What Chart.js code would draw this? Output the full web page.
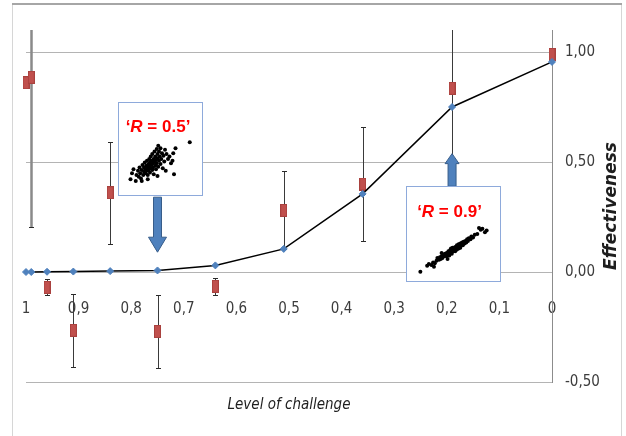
<!DOCTYPE html>
<html>
<head>
<meta charset="utf-8">
<script src="https://cdn.jsdelivr.net/npm/chart.js@4.4.1/dist/chart.umd.min.js"></script>
<style>
html, body { margin: 0; padding: 0; background: #fff; }
#wrap { position: relative; width: 626px; height: 436px; overflow: hidden; }
#main { position: absolute; left: 0; top: 0; }
.inset { position: absolute; box-sizing: border-box; border: 1px solid #8eaadb; background: #fff; }
.inset canvas { position: absolute; left: 0; top: 0; }
.inset .r { position: absolute; left: 0; width: 100%; box-sizing: border-box; text-align: center; white-space: nowrap;
  font: bold 17px "Liberation Sans", Arial, sans-serif; line-height: 17px; color: #ff0000; }
</style>
</head>
<body>
<div id="wrap">
  <canvas id="main" width="626" height="436"></canvas>
  <div class="inset" style="left:118px; top:102px; width:85px; height:94px;">
    <canvas id="inset1" width="83" height="92"></canvas>
    <div class="r" style="top:15px; padding-right:5px;">‘<i>R</i> = 0.5’</div>
  </div>
  <div class="inset" style="left:406px; top:186px; width:95px; height:96px;">
    <canvas id="inset2" width="93" height="94"></canvas>
    <div class="r" style="top:16px; padding-right:8px;">‘<i>R</i> = 0.9’</div>
  </div>
</div>
<script>
// level of challenge (x) -- same positions for the model curve and the observed points
var levels = [1, 0.99, 0.96, 0.91, 0.84, 0.75, 0.64, 0.51, 0.36, 0.19, 0];
var modelValues = [0, 0, 0.001, 0.002, 0.004, 0.007, 0.03, 0.105, 0.355, 0.75, 0.955];
var observedValues = [0.86, 0.885, -0.07, -0.265, 0.36, -0.27, -0.065, 0.28, 0.40, 0.835, 0.99];
var observedErrors = [null, 0.68, 0.036, 0.165, 0.232, 0.165, 0.04, 0.177, 0.26, 0.34, null];

var xTickLabels = ['1', '0,9', '0,8', '0,7', '0,6', '0,5', '0,4', '0,3', '0,2', '0,1', '0'];
var yTickValues = [-0.5, 0, 0.5, 1];
var yTickLabels = ['-0,50', '0,00', '0,50', '1,00'];

// small scatter clouds inside the two boxes (0-100 units)
var inset1Points = [[12,21],[10,14],[14,26],[17,12],[18,19],[20,24],[21,17],[22,28],[23,21],[24,15],[25,25],[26,31],[27,19],[28,23],[28,28],[29,34],[30,21],[30,26],[31,30],[32,24],[32,36],[33,28],[33,19],[34,32],[34,25],[35,38],[35,29],[36,22],[36,34],[37,27],[37,41],[38,31],[38,36],[39,25],[39,44],[40,33],[40,28],[41,38],[41,20],[42,35],[42,47],[43,30],[43,41],[44,37],[44,26],[45,50],[45,33],[46,44],[46,39],[47,29],[47,54],[48,36],[48,47],[49,41],[50,32],[50,51],[51,38],[52,45],[53,27],[54,42],[55,35],[56,49],[57,24],[58,44],[60,38],[62,41],[64,33],[66,36],[68,20],[67,45],[70,51],[25,12],[33,14],[46,18],[89,58]];
var inset2Points = [[11,6],[19,13],[21,15],[24,14],[26,17],[28,16],[30,19],[31,22],[33,20],[34,23],[35,21],[36,24],[37,22],[38,26],[39,24],[40,27],[41,25],[42,28],[42,24],[43,27],[44,30],[45,28],[45,25],[46,31],[47,29],[47,33],[48,27],[48,31],[49,34],[50,30],[50,33],[51,32],[52,35],[52,30],[53,34],[54,37],[54,32],[55,35],[56,33],[56,38],[57,36],[58,39],[58,34],[59,37],[60,40],[61,37],[62,41],[63,39],[64,42],[65,40],[66,44],[67,42],[68,45],[70,44],[71,47],[73,46],[75,49],[78,50],[80,57],[82,55],[84,56],[87,52],[89,54],[27,12],[36,28],[43,21]];

// arrows, in data units
var arrows = [
    {x: 0.75, from: 0.34, to: 0.09, shaft: 8, head: 18, headLen: 15},
    {x: 0.19, from: 0.39, to: 0.538, shaft: 8, head: 14, headLen: 10}
];

var narrow = '"Liberation Sans Narrow", "Arial Narrow", "DejaVu Sans Condensed", sans-serif';
Chart.defaults.font.family = narrow;

// red marker, a bit taller than wide
var redMark = document.createElement('canvas');
redMark.width = 7;
redMark.height = 13;
(function() {
    var c = redMark.getContext('2d');
    c.fillStyle = '#c0504d';
    c.fillRect(0, 0, 7, 13);
    c.strokeStyle = '#a9413e';
    c.strokeRect(0.5, 0.5, 6, 12);
})();

var errorBars = {
    id: 'errorBars',
    beforeDatasetsDraw: function(chart) {
        var ctx = chart.ctx, a = chart.chartArea, x = chart.scales.x, y = chart.scales.y;
        ctx.save();
        ctx.beginPath();
        ctx.rect(a.left, a.top, a.right - a.left, a.bottom - a.top);
        ctx.clip();
        levels.forEach(function(lv, i) {
            var e = observedErrors[i];
            if (e == null) return;
            // the first bar sits on two overlapping points, it reads heavier
            ctx.strokeStyle = i === 1 ? '#8a8a8a' : '#3a3a3a';
            ctx.lineWidth = i === 1 ? 2.5 : 1;
            var px = Math.round(x.getPixelForValue(lv)) + 0.5;
            var top = Math.round(y.getPixelForValue(observedValues[i] + e)) + 0.5;
            var bot = Math.round(y.getPixelForValue(observedValues[i] - e)) + 0.5;
            ctx.beginPath();
            ctx.moveTo(px, top); ctx.lineTo(px, bot);
            ctx.stroke();
            ctx.strokeStyle = '#2a2a2a';
            ctx.lineWidth = 1;
            ctx.beginPath();
            ctx.moveTo(px - 2.5, top); ctx.lineTo(px + 2.5, top);
            ctx.moveTo(px - 2.5, bot); ctx.lineTo(px + 2.5, bot);
            ctx.stroke();
        });
        ctx.restore();
    }
};

var decorations = {
    id: 'decorations',
    beforeDraw: function(chart) {
        var ctx = chart.ctx;
        ctx.save();
        ctx.strokeStyle = '#d6d6d6';
        ctx.lineWidth = 1;
        ctx.beginPath();
        ctx.moveTo(12.5, 4); ctx.lineTo(12.5, 436);
        ctx.moveTo(621.5, 4); ctx.lineTo(621.5, 436);
        ctx.stroke();
        ctx.strokeStyle = '#a6a6a6';
        ctx.lineWidth = 2;
        ctx.beginPath();
        ctx.moveTo(12, 4); ctx.lineTo(622, 4);
        ctx.stroke();
        ctx.restore();
    },
    afterDatasetsDraw: function(chart) {
        var ctx = chart.ctx, x = chart.scales.x, y = chart.scales.y;
        ctx.save();
        ctx.fillStyle = '#4f81bd';
        ctx.strokeStyle = '#385d8a';
        ctx.lineWidth = 1;
        arrows.forEach(function(ar) {
            var cx = x.getPixelForValue(ar.x);
            var y0 = y.getPixelForValue(ar.from);
            var y1 = y.getPixelForValue(ar.to);
            var dir = y1 > y0 ? 1 : -1;
            var yh = y1 - dir * ar.headLen;
            ctx.beginPath();
            ctx.moveTo(cx - ar.shaft / 2, y0);
            ctx.lineTo(cx - ar.shaft / 2, yh);
            ctx.lineTo(cx - ar.head / 2, yh);
            ctx.lineTo(cx, y1);
            ctx.lineTo(cx + ar.head / 2, yh);
            ctx.lineTo(cx + ar.shaft / 2, yh);
            ctx.lineTo(cx + ar.shaft / 2, y0);
            ctx.closePath();
            ctx.fill();
            ctx.stroke();
        });
        ctx.restore();
    },
    afterDraw: function(chart) {
        var ctx = chart.ctx, a = chart.chartArea;
        ctx.save();
        ctx.fillStyle = '#1e1e1e';
        ctx.textAlign = 'center';
        ctx.textBaseline = 'middle';
        ctx.font = 'italic 15px ' + narrow;
        ctx.fillText('Level of challenge', (a.left + a.right) / 2, 405);
        ctx.translate(612, (a.top + a.bottom) / 2);
        ctx.rotate(-Math.PI / 2);
        ctx.font = 'italic bold 17px "DejaVu Sans", sans-serif';
        ctx.fillText('Effectiveness', 0, 0);
        ctx.restore();
    }
};

new Chart(document.getElementById('main'), {
    type: 'scatter',
    data: {
        datasets: [{
            label: 'Model',
            data: levels.map(function(l, i) { return {x: l, y: modelValues[i]}; }),
            showLine: true,
            borderColor: '#000000',
            borderWidth: 1.5,
            pointStyle: 'rectRot',
            pointRadius: 3.5,
            pointBackgroundColor: '#4f81bd',
            pointBorderColor: '#4f81bd',
            pointBorderWidth: 1,
            clip: false
        }, {
            label: 'Observed',
            data: levels.map(function(l, i) { return {x: l, y: observedValues[i]}; }),
            showLine: false,
            pointStyle: redMark,
            pointRadius: 5,
            clip: false
        }]
    },
    options: {
        responsive: false,
        animation: false,
        layout: {padding: {left: 26, top: 30, right: 0, bottom: 54}},
        plugins: {legend: {display: false}, tooltip: {enabled: false}},
        scales: {
            x: {
                type: 'linear',
                position: {y: 0},
                min: 0,
                max: 1,
                reverse: true,
                // the axis sits on y = 0, so it should not eat any layout room
                afterFit: function(s) { s.height = 0; s.paddingLeft = 0; s.paddingRight = 0; },
                grid: {display: false, drawTicks: false},
                border: {display: false},
                ticks: {
                    stepSize: 0.1,
                    autoSkip: false,
                    maxRotation: 0,
                    padding: 28,
                    color: '#3c3c3c',
                    font: {size: 15},
                    callback: function(v) { return xTickLabels[Math.round((1 - v) * 10)]; }
                }
            },
            y: {
                position: 'right',
                min: -0.5,
                max: 1.1,
                afterBuildTicks: function(s) { s.ticks = yTickValues.map(function(v) { return {value: v}; }); },
                afterFit: function(s) { s.width = 74; },
                grid: {color: '#b4b4b4', drawTicks: false},
                border: {display: true, color: '#8c8c8c'},
                ticks: {
                    padding: 13,
                    color: '#3c3c3c',
                    font: {size: 15},
                    callback: function(v, i) { return yTickLabels[i]; }
                }
            }
        }
    },
    plugins: [decorations, errorBars]
});

function drawInset(id, points) {
    new Chart(document.getElementById(id), {
        type: 'scatter',
        data: {
            datasets: [{
                data: points.map(function(p) { return {x: p[0], y: p[1]}; }),
                pointRadius: 2,
                pointBorderWidth: 0,
                pointBackgroundColor: '#000000'
            }]
        },
        options: {
            responsive: false,
            animation: false,
            layout: {padding: 0},
            plugins: {legend: {display: false}, tooltip: {enabled: false}},
            scales: {
                x: {display: false, min: 0, max: 100},
                y: {display: false, min: 0, max: 100}
            }
        }
    });
}
drawInset('inset1', inset1Points);
drawInset('inset2', inset2Points);
</script>
</body>
</html>
